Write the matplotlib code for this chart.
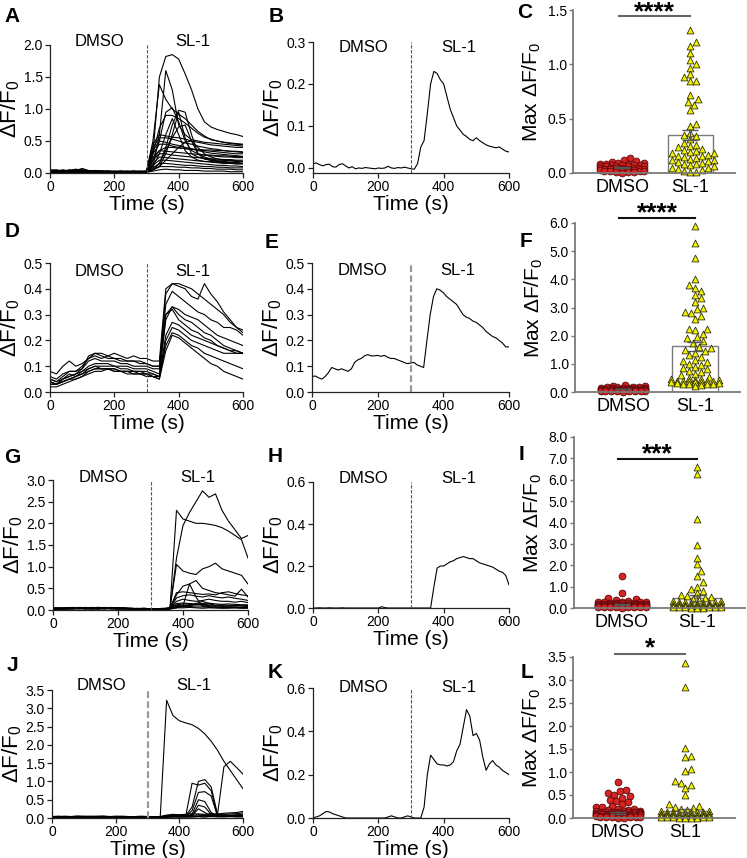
import numpy as np
import matplotlib
matplotlib.use("Agg")
import matplotlib.pyplot as plt

plt.rcParams['font.family'] = ['Liberation Sans', 'DejaVu Sans']
plt.rcParams['mathtext.fontset'] = 'custom'
plt.rcParams['mathtext.rm'] = 'Liberation Sans'
plt.rcParams['mathtext.it'] = 'Liberation Sans:italic'
plt.rcParams['mathtext.bf'] = 'Liberation Sans:bold'

# ---------------- data ----------------
t20 = list(range(0, 601, 20))
t10 = list(range(0, 601, 10))

A_traces = [
    [0.03,0.02,0.04,0.03,0.05,0.02,0.01,0.02,0.03,0.02,0.01,0.02,0.03,0.02,0.01,0.02, 0.30,1.50,1.82,1.85,1.78,1.55,1.30,1.00,0.80,0.72,0.68,0.65,0.62,0.60,0.57],
    [0.02,0.03,0.02,0.04,0.02,0.03,0.02,0.01,0.02,0.03,0.02,0.01,0.02,0.03,0.02,0.03, 0.10,0.60,1.60,1.30,0.75,0.60,0.52,0.50,0.48,0.47,0.46,0.45,0.44,0.43,0.42],
    [0.04,0.03,0.05,0.03,0.04,0.06,0.03,0.02,0.02,0.03,0.02,0.02,0.01,0.02,0.02,0.03, 0.50,1.38,1.15,1.00,0.92,0.85,0.75,0.65,0.58,0.52,0.50,0.48,0.46,0.45,0.44],
    [0.01,0.02,0.03,0.02,0.01,0.02,0.03,0.02,0.01,0.01,0.02,0.01,0.02,0.01,0.02,0.01, 0.20,0.50,0.95,1.02,0.80,0.50,0.35,0.30,0.28,0.27,0.26,0.25,0.25,0.24,0.24],
    [0.05,0.04,0.03,0.05,0.04,0.07,0.04,0.03,0.02,0.03,0.02,0.03,0.02,0.02,0.03,0.02, 0.05,0.15,0.40,0.75,0.98,0.95,0.60,0.30,0.25,0.22,0.20,0.20,0.19,0.18,0.18],
    [0.02,0.01,0.02,0.01,0.03,0.02,0.01,0.02,0.01,0.02,0.01,0.01,0.02,0.01,0.01,0.02, 0.30,0.70,0.90,0.90,0.85,0.78,0.70,0.62,0.56,0.53,0.50,0.48,0.47,0.46,0.45],
    [0.03,0.04,0.03,0.02,0.04,0.03,0.02,0.03,0.02,0.02,0.03,0.02,0.02,0.03,0.02,0.02, 0.45,0.60,0.58,0.56,0.55,0.53,0.50,0.48,0.46,0.44,0.43,0.42,0.41,0.40,0.40],
    [0.02,0.03,0.04,0.03,0.02,0.03,0.02,0.02,0.03,0.02,0.01,0.02,0.02,0.01,0.02,0.02, 0.10,0.30,0.60,0.85,0.60,0.35,0.25,0.20,0.18,0.17,0.16,0.15,0.15,0.14,0.14],
    [0.01,0.02,0.01,0.02,0.03,0.02,0.02,0.01,0.02,0.01,0.02,0.02,0.01,0.02,0.01,0.02, 0.40,0.55,0.55,0.53,0.50,0.47,0.45,0.42,0.40,0.38,0.37,0.35,0.34,0.33,0.32],
    [0.03,0.02,0.03,0.04,0.03,0.02,0.03,0.04,0.03,0.02,0.02,0.03,0.02,0.02,0.03,0.02, 0.30,0.45,0.45,0.42,0.40,0.38,0.37,0.36,0.35,0.34,0.33,0.32,0.31,0.30,0.30],
    [0.02,0.02,0.03,0.02,0.02,0.03,0.02,0.03,0.02,0.02,0.02,0.01,0.02,0.02,0.01,0.02, 0.05,0.15,0.35,0.55,0.72,0.75,0.50,0.30,0.22,0.20,0.18,0.17,0.16,0.16,0.15],
    [0.04,0.03,0.02,0.03,0.02,0.04,0.03,0.02,0.02,0.01,0.02,0.02,0.03,0.02,0.02,0.01, 0.25,0.35,0.34,0.33,0.32,0.31,0.30,0.29,0.28,0.28,0.27,0.27,0.26,0.26,0.25],
    [0.02,0.03,0.02,0.02,0.03,0.02,0.01,0.02,0.02,0.03,0.02,0.02,0.02,0.01,0.02,0.02, 0.20,0.30,0.30,0.28,0.27,0.26,0.25,0.24,0.23,0.22,0.22,0.21,0.21,0.20,0.20],
    [0.01,0.01,0.02,0.03,0.02,0.01,0.02,0.01,0.02,0.02,0.01,0.02,0.01,0.01,0.02,0.01, 0.15,0.25,0.24,0.23,0.22,0.21,0.20,0.19,0.18,0.18,0.17,0.16,0.16,0.15,0.15],
    [0.03,0.02,0.02,0.03,0.04,0.03,0.02,0.02,0.03,0.02,0.02,0.02,0.01,0.02,0.02,0.02, 0.12,0.20,0.20,0.19,0.18,0.17,0.16,0.15,0.14,0.13,0.12,0.12,0.11,0.11,0.10],
    [0.02,0.03,0.03,0.02,0.02,0.02,0.03,0.02,0.01,0.02,0.02,0.01,0.02,0.02,0.01,0.01, 0.08,0.15,0.15,0.14,0.13,0.12,0.12,0.11,0.10,0.10,0.09,0.09,0.08,0.08,0.08],
    [0.01,0.02,0.02,0.01,0.02,0.01,0.01,0.02,0.01,0.01,0.02,0.01,0.01,0.01,0.02,0.01, 0.06,0.10,0.10,0.10,0.09,0.09,0.08,0.08,0.07,0.07,0.06,0.06,0.06,0.05,0.05],
    [0.03,0.03,0.02,0.04,0.03,0.02,0.03,0.02,0.02,0.02,0.03,0.02,0.02,0.02,0.01,0.02, 0.05,0.10,0.20,0.30,0.40,0.48,0.50,0.40,0.30,0.25,0.22,0.20,0.20,0.19,0.18],
    [0.02,0.01,0.02,0.02,0.01,0.02,0.02,0.01,0.01,0.02,0.01,0.02,0.01,0.02,0.02,0.01, 0.20,0.35,0.40,0.40,0.39,0.38,0.37,0.37,0.36,0.36,0.35,0.35,0.34,0.34,0.33],
    [0.01,0.02,0.01,0.01,0.02,0.01,0.01,0.01,0.02,0.01,0.01,0.01,0.02,0.01,0.01,0.01, 0.03,0.05,0.06,0.05,0.05,0.04,0.04,0.04,0.03,0.03,0.03,0.03,0.02,0.02,0.02],
    [0.04,0.05,0.03,0.04,0.06,0.04,0.03,0.02,0.03,0.02,0.02,0.03,0.02,0.03,0.02,0.02, 0.05,0.10,0.30,0.60,0.95,0.55,0.30,0.25,0.22,0.20,0.19,0.18,0.17,0.16,0.15],
    [0.02,0.02,0.03,0.02,0.03,0.02,0.02,0.03,0.02,0.01,0.02,0.02,0.02,0.02,0.02,0.03, 0.35,0.50,0.48,0.45,0.43,0.40,0.38,0.35,0.33,0.31,0.30,0.29,0.28,0.27,0.26],
]

B_trace = [0.010,0.012,0.008,0.005,0.008,0.009,0.003,0.002,0.008,0.010,0.005,0.000,0.003,-0.002,0.000,
           -0.001,0.001,0.000,-0.001,-0.002,0.000,-0.001,0.000,0.004,0.000,-0.001,0.001,0.000,0.002,0.000,
           -0.002,-0.003,0.010,0.050,0.065,0.130,0.200,0.230,0.225,0.210,0.200,0.170,0.140,0.120,0.100,
           0.090,0.080,0.075,0.068,0.065,0.072,0.065,0.060,0.055,0.052,0.050,0.048,0.050,0.045,0.040,0.038]

D_traces = [
    [0.08,0.07,0.10,0.12,0.10,0.11,0.13,0.15,0.15,0.14,0.15,0.14,0.13,0.14,0.13,0.13,0.12,0.12, 0.40,0.42,0.42,0.41,0.40,0.38,0.36,0.34,0.32,0.30,0.27,0.25,0.24],
    [0.05,0.04,0.06,0.08,0.08,0.09,0.14,0.15,0.14,0.13,0.13,0.12,0.12,0.12,0.11,0.11,0.10,0.10, 0.38,0.42,0.41,0.40,0.37,0.36,0.42,0.38,0.35,0.31,0.28,0.25,0.23],
    [0.04,0.03,0.05,0.06,0.07,0.09,0.12,0.13,0.12,0.12,0.12,0.11,0.11,0.10,0.10,0.10,0.09,0.09, 0.34,0.39,0.37,0.35,0.33,0.31,0.30,0.28,0.27,0.25,0.25,0.24,0.22],
    [0.03,0.03,0.04,0.05,0.06,0.08,0.10,0.11,0.11,0.11,0.10,0.10,0.10,0.09,0.09,0.09,0.08,0.07, 0.28,0.33,0.32,0.30,0.29,0.28,0.26,0.24,0.22,0.21,0.20,0.19,0.18],
    [0.04,0.03,0.05,0.07,0.06,0.07,0.09,0.10,0.09,0.09,0.09,0.08,0.08,0.08,0.08,0.07,0.07,0.06, 0.30,0.32,0.28,0.26,0.24,0.23,0.21,0.20,0.18,0.17,0.16,0.16,0.15],
    [0.02,0.02,0.03,0.04,0.05,0.06,0.07,0.08,0.08,0.09,0.09,0.08,0.08,0.08,0.07,0.07,0.06,0.06, 0.22,0.27,0.26,0.24,0.22,0.21,0.20,0.19,0.18,0.17,0.16,0.15,0.15],
    [0.03,0.03,0.04,0.05,0.05,0.06,0.08,0.09,0.09,0.09,0.08,0.08,0.08,0.07,0.07,0.07,0.06,0.05, 0.20,0.25,0.24,0.22,0.20,0.19,0.18,0.17,0.16,0.15,0.15,0.15,0.15],
    [0.05,0.04,0.05,0.06,0.07,0.08,0.09,0.10,0.10,0.10,0.10,0.09,0.09,0.08,0.08,0.08,0.07,0.06, 0.18,0.23,0.22,0.20,0.18,0.17,0.15,0.14,0.13,0.12,0.11,0.10,0.09],
    [0.04,0.03,0.04,0.05,0.06,0.07,0.08,0.09,0.09,0.09,0.08,0.08,0.07,0.07,0.07,0.06,0.06,0.05, 0.16,0.22,0.21,0.19,0.17,0.15,0.13,0.11,0.10,0.08,0.07,0.06,0.05],
    [0.06,0.05,0.07,0.08,0.08,0.10,0.13,0.14,0.13,0.14,0.13,0.13,0.12,0.12,0.12,0.11,0.10,0.10, 0.30,0.33,0.30,0.28,0.27,0.25,0.23,0.22,0.20,0.18,0.17,0.16,0.15],
]

E_trace = [0.060,0.062,0.055,0.050,0.060,0.075,0.095,0.090,0.085,0.090,0.085,0.080,0.090,0.115,0.125,
           0.130,0.140,0.145,0.140,0.140,0.142,0.138,0.142,0.135,0.130,0.130,0.125,0.120,0.115,0.110,
           0.112,0.115,0.105,0.100,0.095,0.200,0.300,0.370,0.400,0.395,0.385,0.370,0.360,0.350,0.340,
           0.320,0.300,0.290,0.285,0.275,0.270,0.260,0.250,0.235,0.225,0.215,0.210,0.200,0.190,0.175,0.175]

G_traces = [
    [0.03,0.04,0.03,0.05,0.04,0.03,0.04,0.05,0.04,0.03,0.04,0.03,0.03,0.02,0.03,0.02,0.02,0.03,0.05, 2.30,2.10,2.05,2.00,2.00,1.98,1.95,1.90,1.82,1.72,1.62,1.20],
    [0.02,0.03,0.04,0.03,0.05,0.06,0.04,0.05,0.06,0.04,0.03,0.04,0.03,0.03,0.02,0.03,0.02,0.02,0.04, 1.20,1.95,2.25,2.50,2.75,2.60,2.68,2.30,2.05,1.85,1.65,1.72],
    [0.04,0.03,0.05,0.04,0.06,0.05,0.04,0.03,0.05,0.06,0.04,0.03,0.04,0.02,0.03,0.03,0.02,0.03,0.05, 1.05,0.90,0.85,0.82,0.95,1.00,1.08,0.95,0.90,0.85,0.80,0.60],
    [0.03,0.02,0.03,0.05,0.04,0.03,0.05,0.04,0.03,0.05,0.04,0.05,0.03,0.03,0.04,0.02,0.03,0.02,0.03, 0.35,0.55,0.60,0.68,0.50,0.45,0.40,0.38,0.35,0.32,0.48,0.30],
    [0.05,0.04,0.04,0.03,0.05,0.04,0.06,0.05,0.04,0.04,0.05,0.04,0.04,0.03,0.03,0.03,0.02,0.03,0.04, 0.40,0.42,0.40,0.38,0.36,0.37,0.35,0.40,0.42,0.38,0.35,0.33],
    [0.02,0.03,0.02,0.04,0.03,0.05,0.04,0.03,0.04,0.05,0.03,0.04,0.02,0.03,0.02,0.03,0.03,0.02,0.03, 0.28,0.33,0.35,0.32,0.30,0.33,0.30,0.28,0.30,0.27,0.25,0.22],
    [0.04,0.05,0.04,0.03,0.04,0.05,0.03,0.04,0.05,0.03,0.04,0.03,0.03,0.04,0.03,0.02,0.03,0.03,0.04, 0.05,0.10,0.60,0.30,0.08,0.06,0.05,0.05,0.06,0.05,0.05,0.05],
    [0.03,0.04,0.05,0.04,0.03,0.04,0.05,0.06,0.04,0.03,0.05,0.04,0.03,0.03,0.02,0.03,0.02,0.03,0.04, 0.20,0.25,0.22,0.20,0.22,0.25,0.22,0.20,0.20,0.18,0.20,0.17],
    [0.02,0.02,0.03,0.04,0.03,0.02,0.03,0.04,0.03,0.04,0.03,0.02,0.03,0.02,0.02,0.03,0.02,0.02,0.03, 0.15,0.16,0.15,0.14,0.15,0.16,0.14,0.13,0.14,0.13,0.12,0.12],
    [0.05,0.04,0.05,0.06,0.05,0.04,0.05,0.06,0.05,0.04,0.05,0.04,0.04,0.03,0.04,0.03,0.03,0.04,0.04, 0.10,0.11,0.10,0.12,0.11,0.10,0.09,0.10,0.09,0.10,0.09,0.08],
    [0.03,0.03,0.02,0.03,0.04,0.03,0.02,0.03,0.04,0.03,0.02,0.03,0.02,0.02,0.03,0.02,0.02,0.02,0.03, 0.08,0.07,0.08,0.07,0.07,0.08,0.07,0.06,0.07,0.06,0.06,0.06],
    [0.04,0.03,0.04,0.05,0.04,0.05,0.04,0.03,0.04,0.05,0.04,0.03,0.03,0.03,0.02,0.03,0.03,0.02,0.04, 0.12,0.14,0.13,0.12,0.13,0.12,0.11,0.12,0.11,0.10,0.11,0.10],
    [0.02,0.03,0.03,0.02,0.03,0.04,0.03,0.02,0.03,0.03,0.02,0.03,0.02,0.02,0.02,0.02,0.01,0.02,0.02, 0.05,0.05,0.06,0.05,0.04,0.05,0.05,0.04,0.04,0.05,0.04,0.04],
    [0.03,0.04,0.03,0.04,0.05,0.04,0.03,0.04,0.03,0.04,0.03,0.04,0.03,0.02,0.03,0.02,0.02,0.03,0.03, 0.06,0.08,0.10,0.15,0.20,0.15,0.10,0.08,0.07,0.07,0.06,0.06],
]

H_trace = [0.000,0.000,0.001,0.000,0.000,0.001,0.000,0.000,0.000,0.001,0.000,0.000,0.000,0.000,0.000,
           0.000,0.000,0.000,0.000,0.000,0.000,0.006,0.002,0.000,0.000,0.000,0.000,0.000,0.000,0.000,
           0.000,0.000,0.000,0.000,0.000,0.000,0.000,0.100,0.190,0.200,0.200,0.210,0.220,0.225,0.235,
           0.240,0.245,0.240,0.235,0.235,0.225,0.215,0.210,0.205,0.200,0.195,0.185,0.175,0.170,0.155,0.110]

J_traces = [
    [0.02,0.03,0.04,0.03,0.02,0.03,0.04,0.03,0.02,0.03,0.04,0.03,0.03,0.02,0.03,0.03,0.02,0.03, 3.22,2.80,2.66,2.60,2.55,2.45,2.30,2.10,1.85,1.55,1.30,1.05,0.80],
    [0.03,0.02,0.03,0.04,0.05,0.04,0.03,0.04,0.05,0.04,0.03,0.04,0.03,0.04,0.03,0.04,0.03,0.03, 0.03,0.04,0.03,0.04,0.03,0.04,0.03,0.05,0.10,1.40,1.55,1.38,1.20],
    [0.01,0.02,0.03,0.02,0.03,0.02,0.02,0.03,0.02,0.03,0.02,0.02,0.03,0.02,0.02,0.03,0.02,0.02, 0.04,0.05,0.04,0.05,0.95,0.90,0.95,0.75,0.05,0.05,0.06,0.06,0.05],
    [0.04,0.05,0.04,0.03,0.04,0.05,0.04,0.05,0.04,0.03,0.04,0.05,0.04,0.03,0.04,0.03,0.04,0.04, 0.05,0.04,0.05,0.06,0.30,1.00,1.05,0.85,0.10,0.06,0.05,0.06,0.05],
    [0.02,0.03,0.02,0.03,0.04,0.03,0.02,0.03,0.02,0.02,0.03,0.02,0.03,0.02,0.03,0.02,0.02,0.03, 0.04,0.05,0.05,0.05,0.20,0.70,0.72,0.60,0.05,0.05,0.05,0.05,0.06],
    [0.03,0.04,0.03,0.04,0.03,0.04,0.05,0.04,0.03,0.04,0.03,0.04,0.04,0.03,0.04,0.03,0.03,0.04, 0.03,0.04,0.04,0.05,0.10,0.50,0.45,0.15,0.05,0.04,0.04,0.04,0.04],
    [0.01,0.02,0.02,0.01,0.02,0.03,0.02,0.02,0.01,0.02,0.02,0.03,0.02,0.02,0.01,0.02,0.02,0.02, 0.02,0.03,0.03,0.04,0.06,0.35,0.30,0.10,0.04,0.03,0.04,0.03,0.03],
    [0.04,0.03,0.05,0.04,0.05,0.04,0.03,0.04,0.05,0.04,0.05,0.04,0.03,0.04,0.05,0.04,0.03,0.04, 0.08,0.10,0.09,0.10,0.12,0.11,0.10,0.12,0.11,0.13,0.14,0.15,0.18],
    [0.02,0.03,0.04,0.03,0.04,0.03,0.04,0.03,0.02,0.03,0.04,0.03,0.02,0.03,0.02,0.03,0.04,0.03, 0.06,0.07,0.06,0.08,0.07,0.09,0.08,0.09,0.10,0.10,0.11,0.12,0.14],
    [0.03,0.02,0.03,0.02,0.03,0.04,0.03,0.02,0.03,0.02,0.03,0.03,0.02,0.03,0.03,0.02,0.03,0.02, 0.04,0.05,0.05,0.06,0.05,0.06,0.07,0.06,0.07,0.08,0.08,0.09,0.10],
    [0.02,0.01,0.02,0.03,0.02,0.01,0.02,0.02,0.03,0.02,0.01,0.02,0.02,0.01,0.02,0.02,0.01,0.02, 0.02,0.03,0.03,0.02,0.03,0.04,0.03,0.04,0.03,0.04,0.05,0.05,0.06],
    [0.03,0.04,0.03,0.02,0.03,0.04,0.03,0.04,0.03,0.04,0.03,0.02,0.03,0.04,0.03,0.03,0.04,0.03, 0.05,0.06,0.08,0.06,0.07,0.25,0.15,0.06,0.05,0.05,0.04,0.05,0.04],
]

K_trace = [0.000,0.005,0.010,0.020,0.030,0.028,0.020,0.015,0.010,0.005,0.000,0.000,0.000,0.000,0.000,
           0.000,0.000,0.000,0.000,0.000,0.000,0.000,0.000,0.005,0.010,0.005,0.000,0.000,0.005,0.010,
           0.005,0.000,0.000,0.000,0.050,0.200,0.290,0.270,0.250,0.245,0.245,0.240,0.245,0.260,0.310,
           0.340,0.420,0.500,0.470,0.380,0.390,0.360,0.280,0.220,0.250,0.265,0.245,0.235,0.220,0.210,0.200]

C_dmso = [0.14,0.12,0.11,0.10,0.09,0.09,0.08,0.08,0.08,0.07,0.07,0.07,0.07,0.06,0.06,0.06,0.06,0.06,
          0.05,0.05,0.05,0.05,0.05,0.05,0.04,0.04,0.04,0.04,0.04,0.04,0.03,0.03,0.03,0.03,0.03,0.02,
          0.02,0.02,0.02,0.01,0.01,0.01,0.00]
C_sl1 = [1.32,1.21,1.17,1.10,1.04,1.00,0.97,0.91,0.88,0.85,0.85,0.72,0.68,0.65,0.63,0.58,0.45,0.43,
         0.37,0.35,0.34,0.31,0.28,0.26,0.25,0.24,0.22,0.21,0.20,0.19,0.18,0.18,0.17,0.16,0.16,0.15,
         0.14,0.13,0.12,0.12,0.11,0.10,0.09,0.08,0.08,0.07,0.06,0.05,0.05,0.04,0.03,0.02,0.01,0.01]
C_mean = [0.05, 0.35]
C_sem = [0.005, 0.05]

F_dmso = [0.25,0.22,0.20,0.19,0.18,0.17,0.16,0.15,0.15,0.14,0.14,0.13,0.13,0.12,0.12,0.12,0.11,0.11,
          0.10,0.10,0.10,0.09,0.09,0.09,0.08,0.08,0.08,0.07,0.07,0.07,0.06,0.06,0.06,0.05,0.05,0.05,
          0.04,0.04,0.03,0.03,0.02,0.02,0.01]
F_sl1 = [5.90,5.30,4.75,4.00,3.80,3.70,3.60,3.45,3.35,3.20,3.00,2.95,2.85,2.80,2.70,2.60,2.25,2.25,
         2.20,2.05,1.95,1.90,1.80,1.75,1.60,1.55,1.50,1.45,1.40,1.30,1.25,1.15,1.10,1.05,1.00,0.95,
         0.90,0.85,0.80,0.75,0.70,0.65,0.60,0.55,0.50,0.45,0.45,0.42,0.42,0.40,0.40,0.40,0.38,0.38,
         0.36,0.35,0.35,0.33,0.32,0.30,0.30,0.28,0.27,0.25,0.20]
F_mean = [0.10, 1.62]
F_sem = [0.01, 0.16]

I_dmso = [1.50,0.70,0.45,0.40,0.36,0.33,0.30,0.30,0.28,0.27,0.26,0.25,0.24,0.23,0.22,0.22,0.21,0.20,
          0.20,0.19,0.18,0.18,0.17,0.16,0.16,0.15,0.15,0.14,0.14,0.13,0.13,0.12,0.12,0.11,0.11,0.10,
          0.10,0.10,0.09,0.09,0.08,0.08,0.07,0.07,0.06,0.06,0.05,0.05,0.04,0.04,0.03,0.02]
I_sl1 = [6.60,6.25,4.15,2.95,2.35,2.05,1.75,1.50,1.20,1.00,0.90,0.80,0.70,0.60,0.55,0.50,0.45,0.40,
         0.38,0.35,0.32,0.30,0.28,0.26,0.25,0.24,0.22,0.20,0.20,0.18,0.17,0.16,0.15,0.14,0.13,0.12,
         0.12,0.11,0.10,0.10,0.09,0.08,0.08,0.07,0.06,0.06,0.05,0.05,0.04,0.04,0.03,0.03,0.02,0.02,0.01]
I_mean = [0.17, 0.48]
I_sem = [0.03, 0.14]

L_dmso = [0.78,0.60,0.58,0.55,0.50,0.47,0.44,0.40,0.37,0.34,0.30,0.27,0.25,0.23,0.20,0.19,0.18,0.17,
          0.16,0.15,0.15,0.14,0.14,0.13,0.13,0.12,0.12,0.12,0.11,0.11,0.11,0.10,0.10,0.10,0.10,0.09,
          0.09,0.09,0.09,0.08,0.08,0.08,0.08,0.07,0.07,0.07,0.07,0.06,0.06,0.06,0.06,0.05,0.05,0.05,
          0.05,0.04,0.04,0.04,0.04,0.03,0.03,0.03,0.02,0.02,0.02,0.01,0.01]
L_sl1 = [3.38,2.85,1.53,1.35,1.32,1.07,1.02,0.80,0.76,0.72,0.66,0.50,0.30,0.26,0.24,0.22,0.20,0.18,
         0.16,0.15,0.14,0.13,0.12,0.12,0.11,0.10,0.10,0.09,0.09,0.08,0.08,0.08,0.07,0.07,0.07,0.06,
         0.06,0.06,0.05,0.05,0.05,0.04,0.04,0.04,0.03,0.03,0.03,0.02,0.02,0.02,0.01,0.01,0.01,0.00]
L_mean = [0.11, 0.16]
L_sem = [0.015, 0.04]

cats_main = ['DMSO', 'SL-1']
cats_last = ['DMSO', 'SL1']

# ---------------- layout helpers ----------------
W, H = 747, 858
fig = plt.figure(figsize=(W / 100, H / 100), dpi=100)


def add_ax(l, t, r, b):
    return fig.add_axes([l / W, 1 - b / H, (r - l) / W, (b - t) / H])


def ftext(x, y, s, **kw):
    fig.text(x / W, 1 - y / H, s, **kw)


YLAB = 'ΔF/$\\mathregular{F_0}$'
YLAB_MAX = 'Max ΔF/$\\mathregular{F_0}$'


def trace_panel(box, t, traces, ylim, yticks, yfmt, text_y, vline_lw=0.8, vline_col='#555555'):
    l, tp, r, b = box
    ax = add_ax(l, tp, r, b)
    for y in traces:
        ax.plot(t, y, color='black', lw=0.8, solid_joinstyle='round')
    ax.axvline(300, color=vline_col, ls=(0, (3, 1.5)), lw=vline_lw)
    ax.set_xlim(0, 600)
    ax.set_ylim(*ylim)
    ax.set_xticks([0, 200, 400, 600])
    ax.set_yticks(yticks)
    ax.set_yticklabels([yfmt % v for v in yticks])
    for s in ['top', 'right']:
        ax.spines[s].set_visible(False)
    for s in ['left', 'bottom']:
        ax.spines[s].set_linewidth(0.9)
        ax.spines[s].set_color('#222222')
    ax.tick_params(direction='out', length=3.5, width=0.9, labelsize=10, pad=1.5, colors='#222222',
                   labelcolor='black')
    ax.spines['left'].set_bounds(ylim[0], yticks[-1])
    fy = (b - text_y) / (b - tp)
    ax.text(155, fy, 'DMSO', transform=ax.get_xaxis_transform(), ha='center', va='center', fontsize=12)
    ax.text(445, fy, 'SL-1', transform=ax.get_xaxis_transform(), ha='center', va='center', fontsize=12)
    ax.set_xlabel('Time (s)', fontsize=15, labelpad=1)
    ax.set_ylabel(YLAB, fontsize=16, labelpad=1)
    return ax


def swarm(vals, ypx, xpx, diam, halfmax):
    vals = np.asarray(vals, float)
    order = np.argsort(vals, kind='stable')
    step = diam / 3.0
    cands = [0.0]
    k = 1
    while k * step <= halfmax:
        cands += [k * step, -k * step]
        k += 1
    px, py = [], []
    offs = np.zeros(len(vals))
    for i in order:
        y = vals[i] * ypx
        best, bestsc = 0.0, None
        for c in cands:
            sc = 0.0
            for xx, yy in zip(px, py):
                d = np.hypot(c - xx, y - yy)
                if d < diam:
                    sc += diam - d
            if sc == 0:
                best = c
                break
            if bestsc is None or sc < bestsc:
                best, bestsc = c, sc
        px.append(best)
        py.append(y)
        offs[i] = best / xpx
    return offs


def scatter_panel(box, dmso, sl1, means, sems, cats, ylim, yticks, xlim, barw,
                  sig_y, star_px, stars, line_col, half=(22, 25)):
    l, tp, r, b = box
    ax = add_ax(l, tp, r, b)
    ax.set_xlim(*xlim)
    ax.set_ylim(*ylim)
    ypx = (b - tp) / (ylim[1] - ylim[0])
    xpx = (r - l) / (xlim[1] - xlim[0])
    gray = '#7a7a7a'
    # bars
    ax.bar([0, 1], means, width=barw, color='white', edgecolor=gray, linewidth=1.0, zorder=1)
    # points
    o0 = swarm(dmso, ypx, xpx, 6.0, half[0])
    ax.scatter(0 + o0, dmso, s=24, marker='o', facecolor='#d42424', edgecolor='#5a0808',
               linewidth=0.6, zorder=2, clip_on=False)
    o1 = swarm(sl1, ypx, xpx, 6.0, half[1])
    ax.scatter(1 + o1, sl1, s=24, marker='^', facecolor='#f4f400', edgecolor='#303000',
               linewidth=0.6, zorder=2, clip_on=False)
    # error bars
    ax.errorbar([0, 1], means, yerr=sems, fmt='none', ecolor='#555555', elinewidth=1.0,
                capsize=6, capthick=1.0, zorder=3)
    # significance
    ax.plot([-0.05, 1.0], [sig_y, sig_y], color=line_col, lw=1.5, clip_on=False, zorder=4)
    cx = l + (0.475 - xlim[0]) * xpx
    ftext(cx, star_px, stars, ha='center', va='baseline', fontsize=19, fontweight='bold')
    # axes style
    ax.set_xticks([0, 1])
    ax.set_xticklabels(cats, fontsize=13)
    ax.set_yticks(yticks)
    ax.set_yticklabels(['%.1f' % v for v in yticks])
    for s in ['top', 'right']:
        ax.spines[s].set_visible(False)
    for s in ['left', 'bottom']:
        ax.spines[s].set_linewidth(1.3)
        ax.spines[s].set_color(gray)
    ax.tick_params(axis='y', direction='out', length=3, width=1.0, colors=gray,
                   labelcolor='black', labelsize=10, pad=1.5)
    ax.tick_params(axis='x', length=0, pad=4, labelcolor='black')
    ax.set_ylabel(YLAB_MAX, fontsize=15, labelpad=3)
    return ax


# ---------------- panels ----------------
trace_panel((50, 45, 243, 173), t20, A_traces, (0, 2.0), [0, 0.5, 1.0, 1.5, 2.0], '%.1f', 41)
trace_panel((313, 42, 509, 173), t10, [B_trace], (-0.012, 0.3), [0, 0.1, 0.2, 0.3], '%.1f', 48)
scatter_panel((573, 10, 735, 173), C_dmso, C_sl1, C_mean, C_sem, cats_main, (0, 1.5),
              [0, 0.5, 1.0, 1.5], (-0.72, 1.66), 0.66, 1.444, 19, '****', '#666666', half=(22, 27))

trace_panel((50, 263, 243, 392), t20, D_traces, (0, 0.5), [0, 0.1, 0.2, 0.3, 0.4, 0.5], '%.1f', 271)
trace_panel((312, 263, 509, 392), t10, [E_trace], (0, 0.5), [0, 0.1, 0.2, 0.3, 0.4, 0.5], '%.1f', 270,
            vline_lw=1.6, vline_col='#999999')
scatter_panel((575, 223, 740, 392), F_dmso, F_sl1, F_mean, F_sem, cats_main, (0, 6.0),
              [0, 1, 2, 3, 4, 5, 6], (-0.667, 1.625), 0.65, 6.18, 220, '****', '#111111', half=(22, 25))

trace_panel((53, 480, 248, 610), t20, G_traces, (0, 3.0), [0, 0.5, 1.0, 1.5, 2.0, 2.5, 3.0], '%.1f', 477)
trace_panel((313, 482, 509, 608), t10, [H_trace], (0, 0.6), [0, 0.2, 0.4, 0.6], '%.1f', 479)
scatter_panel((574, 437, 745, 608), I_dmso, I_sl1, I_mean, I_sem, cats_main, (0, 8.0),
              [0, 1, 2, 3, 4, 5, 6, 7, 8], (-0.64, 1.64), 0.64, 6.97, 461, '***', '#111111', half=(24, 25))

trace_panel((52, 690, 243, 818), t20, J_traces, (0, 3.5), [0, 0.5, 1.0, 1.5, 2.0, 2.5, 3.0, 3.5], '%.1f', 686,
            vline_lw=1.6, vline_col='#999999')
trace_panel((313, 688, 509, 818), t10, [K_trace], (0, 0.6), [0, 0.2, 0.4, 0.6], '%.1f', 687)
scatter_panel((573, 657, 735, 818), L_dmso, L_sl1, L_mean, L_sem, cats_last, (0, 3.5),
              [0, 0.5, 1.0, 1.5, 2.0, 2.5, 3.0, 3.5], (-0.67, 1.75), 0.7, 3.565, 655, '*', '#666666',
              half=(23, 25))

# panel letters (baseline positions)
letters = [('A', 12, 22), ('B', 276, 22), ('C', 525, 18), ('D', 12, 237), ('E', 272, 248),
           ('F', 526, 247), ('G', 12, 463), ('H', 275, 462), ('I', 522, 460), ('J', 12, 671),
           ('K', 275, 678), ('L', 527, 678)]
for s, x, y in letters:
    ftext(x, y, s, ha='center', va='baseline', fontsize=15, fontweight='bold')

fig.savefig('out.png', dpi=100)
